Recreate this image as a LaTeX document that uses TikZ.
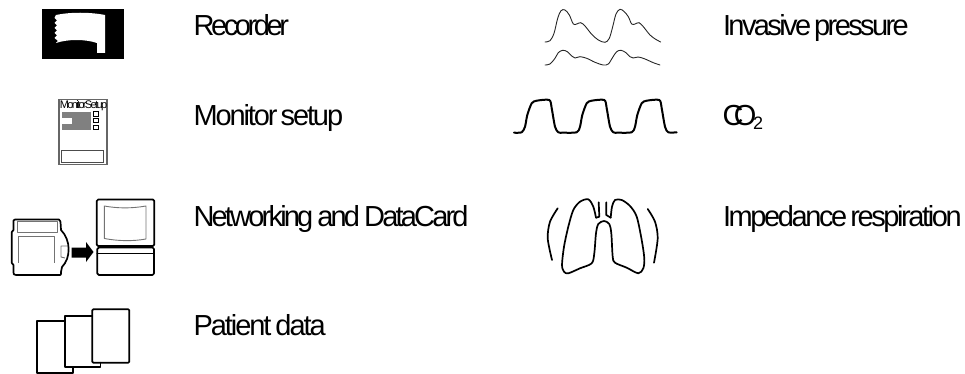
\documentclass[tikz,border=0pt]{standalone}
\usepackage{fontspec}
\setmainfont{Liberation Sans}
\newlength{\trk}
\XeTeXinterchartokenstate=1
\newcount\cc
\cc=`A \loop \XeTeXcharclass\cc=1 \ifnum\cc<`Z \advance\cc by 1 \repeat
\cc=`a \loop \XeTeXcharclass\cc=1 \ifnum\cc<`z \advance\cc by 1 \repeat
\XeTeXinterchartoks 1 1 = {\kern\trk}
\newcommand{\tracked}[3]{\setlength{\trk}{#1pt}\spaceskip=#2pt\relax #3}
\tikzset{
  lab/.style={anchor=base west,inner sep=0pt,outer sep=0pt,font=\fontsize{29}{29}\selectfont},
  ink/.style={draw=black,line width=1.7pt,line join=round,line cap=round,fill=none},
  grayink/.style={draw=black!55,line width=.9pt,line join=round},
  wave/.style={draw=black!85,line width=.9pt,line cap=round,smooth,tension=.55},
  co/.style={draw=black,line width=2pt,line cap=round,line join=round},
}
\begin{document}
\begin{tikzpicture}[x=1pt,y=-1pt]
\useasboundingbox (0,0) rectangle (965,374);
% labels
\node[lab] (t1) at (193.5,36) {\tracked{-3.4}{5}{Recorder}};
\node[lab] (t2) at (193.5,126) {\tracked{-2.1}{3}{Monitor setup}};
\node[lab] (t3) at (193.5,226) {\tracked{-2.8}{4}{Networking and DataCard}};
\node[lab] (t4) at (193.5,335) {\tracked{-2.05}{4}{Patient data}};
\node[lab] (t5) at (723,36) {\tracked{-2.6}{3}{Invasive pressure}};
\node[lab] (t6) at (722.5,126) {\tracked{-9.5}{4}{CO}};
\node[anchor=base west,inner sep=0pt,font=\fontsize{18}{18}\selectfont] (t6b) at (753,130) {2};
\node[lab] (t7) at (723,226) {\tracked{-2.4}{3}{Impedance respiration}};
% recorder
\fill[black] (42,9) rectangle (124,59);
\fill[white] (56,15) .. controls (70,12) and (90,12) .. (105,15)
  -- (105,53) -- (97,53) -- (97,43)
  .. controls (85,39) and (68,39) .. (56,43)
  -- (58,41) -- (54.5,38) -- (57,35.5) -- (54.5,33) -- (57,30.5) -- (54.5,28) -- (57,25.5) -- (54.5,23) -- (57,20.5) -- (54.5,18) -- cycle;
% monitor setup
\draw[black!60,line width=1.3pt] (59,99.5) rectangle (107,164.5);
\node[anchor=base,inner sep=0pt,font=\fontsize{11}{11}\selectfont] (ms) at (83.5,108.5) {\tracked{-1.65}{2}{MonitorSetup}};
\fill[black!50] (62,112) rectangle (91,130);
\fill[white] (61,118) rectangle (72,124);
\draw[black,line width=.8pt] (93.5,111.8) rectangle (98,116);
\draw[black,line width=.8pt] (93.5,118.3) rectangle (98,122.5);
\draw[black,line width=.8pt] (93.5,125) rectangle (98,129.2);
\draw[black!70,line width=.9pt] (61.5,150.7) rectangle (103.3,162.7);
% card
\draw[ink] (15,219.5) -- (59,219.5) .. controls (60.5,219.5) and (60.5,221) .. (61,230)
  .. controls (71,240) and (71,258) .. (62,267) -- (61,272) .. controls (61,275) and (61,275) .. (60,275)
  -- (16,275) .. controls (13.5,275) and (13.5,274) .. (13.5,272) -- (13.5,265) -- (11.8,263) -- (11.8,232) -- (13.5,230) -- (13.5,220.5) .. controls (13.5,219.5) and (14,219.5) .. (15,219.5);
\draw[grayink] (17,221.5) -- (17,232) -- (57,232) -- (57,221.5) -- cycle;
\draw[grayink] (18.5,262.5) -- (18.5,236) -- (54.5,236) -- (54.5,262.5);
\draw[grayink] (68,246) -- (61,246) -- (61,257) -- (65,258);
% arrow
\fill[black] (71.5,247.5) -- (86,247.5) -- (86,242) -- (93.5,252) -- (86,262) -- (86,257.5) -- (71.5,257.5) -- cycle;
% monitor
\draw[ink,rounded corners=1.5pt] (96.7,199.5) rectangle (154.3,246);
\draw[ink,rounded corners=1.5pt] (97.3,247.5) rectangle (154,275);
\draw[ink] (97.3,253.5) -- (154,253.5);
\draw[grayink] (104.3,206) .. controls (118,208.5) and (132,208.5) .. (146,206) -- (146,239) .. controls (132,241.5) and (118,241) .. (104.3,238.5) -- cycle;
% patient pages
\draw[ink] (65,320.7) -- (36.7,320.7) -- (36.7,373) -- (73.3,373) -- (73.3,367);
\draw[ink] (92.3,315.7) -- (65,315.7) -- (65,367) -- (100.5,367) -- (100.5,362.7);
\draw[ink,rounded corners=1pt] (92.3,309.3) rectangle (129.3,362.7);
% invasive pressure waves
\draw[wave] plot coordinates {(545,42) (550,40.7) (554,33.3) (557.7,18.3) (561,10.7) (565,10) (569.3,15) (573.3,24) (576.7,24) (580.7,22.7) (585,26) (591.7,34.3) (598.3,40) (605,42.3) (609.3,38.3) (612.7,26.7) (616,14) (620,9.3) (624.3,11.7) (628.3,16.7) (631.7,24) (635,24) (639,22.7) (643.3,26.7) (650,35) (655.7,39.3) (660.7,42)};
\draw[wave] plot coordinates {(545,65) (550,64) (555,58.3) (558.3,52.7) (562.7,50.3) (567.3,51.7) (571.7,56) (575,58) (580,56.7) (586.7,58.3) (595,62.3) (603.3,65) (608.3,64) (612.7,57.3) (616.7,51.7) (621,50.3) (626,52.7) (630,56.7) (633.3,58) (638.3,57) (645,59) (653.3,62.7) (660,65)};
% CO2 wave
\draw[co,smooth,tension=.45] plot coordinates {(514,132.7) (521.7,132.3) (525,126.7) (527.3,115) (531.7,103.3) (536.7,100.7) (549.3,100) (551.7,108.3) (555,126.7) (558.3,132.3) (563.3,132.7) (576.7,132.3) (580,126.7) (582.3,115) (586.7,103.3) (591.7,100.7) (604.3,100) (606.7,108.3) (610,126.7) (613.3,132.3) (618.3,132.7) (631.7,132.3) (635,126.7) (637.3,115) (641.7,103.3) (646.7,100.7) (659.3,100) (661.7,108.3) (665,126.7) (668.3,132.3) (676.7,132.3)};
% lungs
\draw[ink,smooth,tension=.5] plot coordinates {(596,217.7) (593.3,206.7) (588.3,199.3) (580,201.7) (573.3,210) (568.3,226.7) (564,246.7) (562,265) (564,271.7) (568.3,273.3) (580,268.3) (591.7,263.3) (594.3,253.3) (596,233.3) (598.3,224) (604,221) (609.3,224) (611.3,233.3) (612.7,256.7) (615,262.7) (626.7,267.7) (638.3,273.3) (643.3,268.3) (644.3,258.3) (641.7,240) (636.7,216.7) (630,206) (621.7,200) (615,200) (612,206.7) (610.7,217.7)};
\draw[ink] (596,217.7) -- (599.3,216.7) -- (598.7,202.3);
\draw[ink] (610.7,217.7) -- (606.3,215) -- (606.3,202.3);
\draw[ink,smooth] plot coordinates {(557.7,208.3) (550,221.7) (547.7,238.3) (552,260)};
\draw[ink,smooth] plot coordinates {(647.7,209) (655,221.7) (657.7,238.3) (654,262.7)};
\end{tikzpicture}
\end{document}
